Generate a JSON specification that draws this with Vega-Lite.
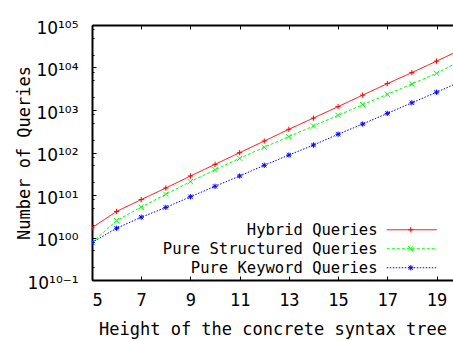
{
  "$schema": "https://vega.github.io/schema/vega-lite/v6.json",
  "width": 361,
  "height": 255,
  "autosize": {"type": "none"},
  "padding": {"left": 92, "top": 25, "right": 0, "bottom": 61},
  "background": "white",
  "config": {
    "view": {"stroke": null},
    "font": "DejaVu Sans Mono",
    "axis": {
      "grid": false,
      "domainColor": "black",
      "domainWidth": 2,
      "tickColor": "black",
      "tickWidth": 1,
      "labelColor": "black",
      "titleColor": "black",
      "labelFont": "DejaVu Sans Mono",
      "titleFont": "DejaVu Sans Mono",
      "labelFontSize": 17,
      "titleFontSize": 17,
      "titleFontWeight": "normal"
    }
  },
  "data": {
    "values": [
      {"height": 5, "series": "Hybrid Queries", "queries": 1.7},
      {"height": 6, "series": "Hybrid Queries", "queries": 4.1},
      {"height": 7, "series": "Hybrid Queries", "queries": 7.8},
      {"height": 8, "series": "Hybrid Queries", "queries": 14.6},
      {"height": 9, "series": "Hybrid Queries", "queries": 28},
      {"height": 10, "series": "Hybrid Queries", "queries": 52.6},
      {"height": 11, "series": "Hybrid Queries", "queries": 99},
      {"height": 12, "series": "Hybrid Queries", "queries": 186},
      {"height": 13, "series": "Hybrid Queries", "queries": 352},
      {"height": 14, "series": "Hybrid Queries", "queries": 646},
      {"height": 15, "series": "Hybrid Queries", "queries": 1202},
      {"height": 16, "series": "Hybrid Queries", "queries": 2239},
      {"height": 17, "series": "Hybrid Queries", "queries": 4169},
      {"height": 18, "series": "Hybrid Queries", "queries": 7586},
      {"height": 19, "series": "Hybrid Queries", "queries": 14125},
      {"height": 20, "series": "Hybrid Queries", "queries": 26300},
      {"height": 5, "series": "Pure Structured Queries", "queries": 0.76},
      {"height": 6, "series": "Pure Structured Queries", "queries": 2.5},
      {"height": 7, "series": "Pure Structured Queries", "queries": 5.2},
      {"height": 8, "series": "Pure Structured Queries", "queries": 10.4},
      {"height": 9, "series": "Pure Structured Queries", "queries": 20.6},
      {"height": 10, "series": "Pure Structured Queries", "queries": 39.4},
      {"height": 11, "series": "Pure Structured Queries", "queries": 73},
      {"height": 12, "series": "Pure Structured Queries", "queries": 133},
      {"height": 13, "series": "Pure Structured Queries", "queries": 236},
      {"height": 14, "series": "Pure Structured Queries", "queries": 420},
      {"height": 15, "series": "Pure Structured Queries", "queries": 750},
      {"height": 16, "series": "Pure Structured Queries", "queries": 1333},
      {"height": 17, "series": "Pure Structured Queries", "queries": 2340},
      {"height": 18, "series": "Pure Structured Queries", "queries": 4080},
      {"height": 19, "series": "Pure Structured Queries", "queries": 7300},
      {"height": 20, "series": "Pure Structured Queries", "queries": 14500},
      {"height": 5, "series": "Pure Keyword Queries", "queries": 0.76},
      {"height": 6, "series": "Pure Keyword Queries", "queries": 1.65},
      {"height": 7, "series": "Pure Keyword Queries", "queries": 3.0},
      {"height": 8, "series": "Pure Keyword Queries", "queries": 5.1},
      {"height": 9, "series": "Pure Keyword Queries", "queries": 9.1},
      {"height": 10, "series": "Pure Keyword Queries", "queries": 16},
      {"height": 11, "series": "Pure Keyword Queries", "queries": 28},
      {"height": 12, "series": "Pure Keyword Queries", "queries": 50},
      {"height": 13, "series": "Pure Keyword Queries", "queries": 87},
      {"height": 14, "series": "Pure Keyword Queries", "queries": 150},
      {"height": 15, "series": "Pure Keyword Queries", "queries": 269},
      {"height": 16, "series": "Pure Keyword Queries", "queries": 468},
      {"height": 17, "series": "Pure Keyword Queries", "queries": 832},
      {"height": 18, "series": "Pure Keyword Queries", "queries": 1480},
      {"height": 19, "series": "Pure Keyword Queries", "queries": 2620},
      {"height": 20, "series": "Pure Keyword Queries", "queries": 4700}
    ]
  },
  "encoding": {
    "y": {
      "field": "queries",
      "type": "quantitative",
      "scale": {"type": "log", "domain": [0.1, 100000], "nice": false},
      "axis": {
        "orient": "left",
        "title": "Number of Queries",
        "titlePadding": -7,
        "values": [0.1, 0.2, 0.5, 0.8, 1, 2, 5, 8, 10, 20, 50, 80, 100, 200, 500, 800, 1000, 2000, 5000, 8000, 10000, 20000, 50000, 80000, 100000],
        "labelExpr": "abs(log(datum.value)/LN10 - round(log(datum.value)/LN10)) < 0.001 ? '10' + ['¹⁰⁻¹','¹⁰⁰','¹⁰¹','¹⁰²','¹⁰³','¹⁰⁴','¹⁰⁵'][round(log(datum.value)/LN10)+1] : ''",
        "tickSize": {"condition": {"test": "abs(log(datum.value)/LN10 - round(log(datum.value)/LN10)) < 0.001", "value": -4}, "value": -2},
        "labelFont": "DejaVu Sans",
        "labelPadding": 18,
        "labelBaseline": "middle",
        "labelOffset": 3
      }
    }
  },
  "layer": [
    {
      "mark": {"type": "line", "strokeWidth": 1, "clip": true},
      "encoding": {
        "x": {
          "field": "height",
          "type": "quantitative",
          "scale": {"domain": [5, 19.67], "nice": false, "zero": false},
          "axis": {
            "orient": "bottom",
            "values": [5, 7, 9, 11, 13, 15, 17, 19],
            "title": "Height of the concrete syntax tree",
            "tickSize": -4,
            "labelPadding": 16,
            "titlePadding": 13
          }
        },
        "color": {
          "field": "series",
          "type": "nominal",
          "scale": {"domain": ["Hybrid Queries", "Pure Structured Queries", "Pure Keyword Queries"], "range": ["#ff0000", "#00ff00", "#0000ff"]},
          "legend": {"title": null, "orient": "none", "legendX": 312, "legendY": 197, "symbolType": "M-5,0H5", "symbolSize": 100, "symbolStrokeWidth": 1, "labelAlign": "right", "labelOffset": -42, "labelLimit": 400, "labelFont": "DejaVu Sans Mono", "labelFontSize": 15.5, "labelColor": "black", "rowPadding": 2, "padding": 0}
        },
        "strokeDash": {
          "field": "series",
          "type": "nominal",
          "scale": {"domain": ["Hybrid Queries", "Pure Structured Queries", "Pure Keyword Queries"], "range": [[1, 0], [3, 2], [1.5, 1.5]]},
          "legend": {"title": null, "orient": "none", "legendX": 312, "legendY": 197, "symbolType": "M-5,0H5", "symbolSize": 100, "symbolStrokeWidth": 1, "labelAlign": "right", "labelOffset": -42, "labelLimit": 400, "labelFont": "DejaVu Sans Mono", "labelFontSize": 15.5, "labelColor": "black", "rowPadding": 2, "padding": 0}
        }
      }
    },
    {
      "mark": {"type": "point", "filled": false, "strokeWidth": 1, "size": 28, "opacity": 1, "clip": true},
      "encoding": {
        "x": {
          "field": "height",
          "type": "quantitative",
          "scale": {"domain": [5, 19.67], "nice": false, "zero": false},
          "axis": {"orient": "top", "values": [5, 7, 9, 11, 13, 15, 17, 19], "labels": false, "title": null, "tickSize": -4}
        },
        "color": {
          "field": "series",
          "type": "nominal",
          "scale": {"domain": ["Hybrid Queries", "Pure Structured Queries", "Pure Keyword Queries"], "range": ["#ff0000", "#00ff00", "#0000ff"]},
          "legend": {"title": null, "orient": "none", "legendX": 311, "legendY": 197, "symbolSize": 28, "symbolStrokeWidth": 1, "labelExpr": "''", "labelFontSize": 15.5, "rowPadding": 2, "padding": 0}
        },
        "shape": {
          "field": "series",
          "type": "nominal",
          "scale": {"domain": ["Hybrid Queries", "Pure Structured Queries", "Pure Keyword Queries"], "range": ["M-1,0H1M0,-1V1", "M-1,-1L1,1M-1,1L1,-1", "M-1,0H1M0,-1V1M-0.8,-0.8L0.8,0.8M-0.8,0.8L0.8,-0.8"]},
          "legend": {"title": null, "orient": "none", "legendX": 311, "legendY": 197, "symbolSize": 28, "symbolStrokeWidth": 1, "labelExpr": "''", "labelFontSize": 15.5, "rowPadding": 2, "padding": 0}
        }
      }
    }
  ],
  "resolve": {
    "axis": {"x": "independent"},
    "legend": {"color": "independent", "strokeDash": "independent", "shape": "independent"}
  }
}
